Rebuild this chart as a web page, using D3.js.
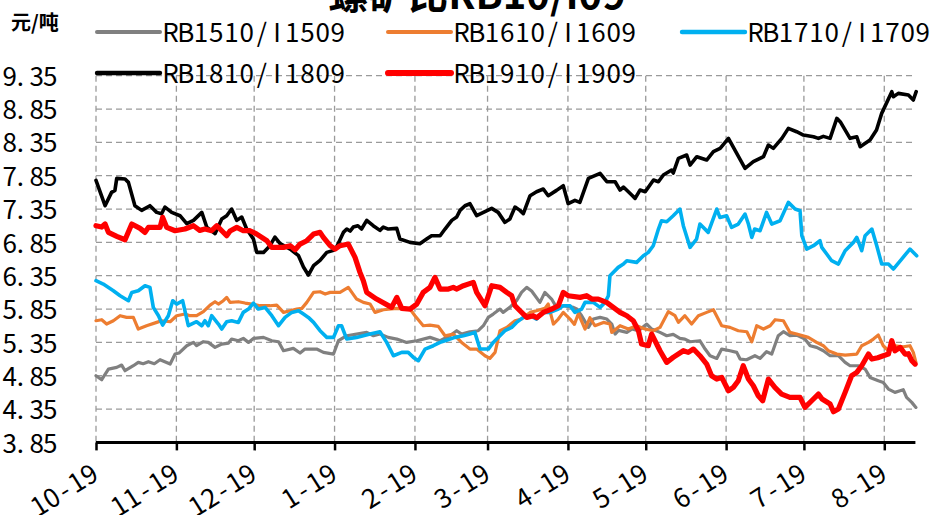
<!DOCTYPE html>
<html>
<head>
<meta charset="utf-8">
<script src="https://cdn.jsdelivr.net/npm/d3@7"></script>
<style>
  html, body { margin: 0; padding: 0; background: #fff; }
  svg { display: block; }
</style>
</head>
<body>
<svg id="chart" width="930" height="515"></svg>
<script>
// Each series: [days since 19 Oct, ratio]
const rb1510 = [[0,4.85],[2.2,4.79],[4.8,4.95],[8,4.975],[9.9,5.01],[11.2,4.925],[14.4,5.0],[16.3,5.05],[18.2,5.03],[20.2,5.06],[22.5,5.03],[24.7,5.09],[28.6,5.025],[30.5,5.175],[32,5.19],[35,5.30],[37.6,5.35],[38.8,5.30],[41.4,5.36],[43.3,5.35],[45.9,5.275],[48.5,5.325],[51.1,5.34],[52.3,5.40],[54.9,5.375],[56.8,5.41],[58.8,5.35],[60.7,5.41],[64.6,5.425],[67.8,5.375],[70.4,5.36],[72.3,5.225],[76.1,5.26],[78.7,5.19],[80.6,5.25],[85.1,5.25],[87.7,5.20],[91.6,5.175],[93.5,5.375],[96.7,5.45],[100.5,5.475],[104.4,5.50],[107,5.45],[109.5,5.475],[112.7,5.425],[116,5.40],[119.8,5.35],[123.7,5.375],[128.8,5.425],[132.7,5.375],[136.5,5.45],[139.1,5.525],[141,5.475],[144.2,5.51],[147.4,5.525],[149.4,5.60],[151.3,5.725],[153.2,5.775],[155.8,5.85],[157,5.80],[159.6,5.875],[162.2,5.975],[164.1,6.10],[166.1,6.175],[168,6.12],[171.2,5.95],[173.1,6.10],[175.7,6.0],[177.6,5.875],[180.2,5.90],[184.1,5.875],[185.4,5.85],[187.3,5.75],[189.9,5.575],[191.8,5.70],[194.4,5.725],[197,5.70],[198.9,5.625],[200.2,5.475],[201.5,5.53],[204.7,5.50],[206.6,5.55],[209.2,5.525],[212.4,5.625],[214.3,5.55],[217.5,5.50],[220.1,5.45],[222.6,5.47],[225.2,5.41],[227.1,5.40],[229.1,5.36],[232.9,5.375],[234.9,5.25],[236.8,5.15],[239.4,5.11],[241.3,5.25],[244.5,5.225],[247.1,5.20],[248.4,5.10],[250.9,5.09],[254.1,5.15],[256.1,5.11],[258.6,5.21],[260.6,5.175],[263.1,5.45],[265.1,5.51],[267.6,5.45],[270.2,5.46],[273.4,5.40],[275.4,5.30],[277.9,5.275],[280.5,5.225],[283.1,5.15],[286.3,5.15],[288.9,5.05],[290.8,5.0],[294,5.0],[296.6,4.95],[298.5,4.825],[301.7,4.775],[303.6,4.75],[305.6,4.65],[308.1,4.60],[310.1,4.625],[311.3,4.64],[312.6,4.525],[314.6,4.45],[316.2,4.375]];

const rb1610 = [[0,5.675],[2.2,5.69],[4.1,5.625],[6.7,5.675],[9.3,5.75],[11.8,5.725],[14.4,5.725],[16.3,5.55],[19.5,5.60],[23.4,5.65],[25.3,5.675],[28.6,5.66],[31.1,5.75],[34.3,5.775],[36.3,5.75],[38.8,5.75],[41.4,5.81],[44,5.91],[45.9,5.96],[47.2,5.925],[49.1,5.975],[50.4,6.025],[51.7,5.95],[54.9,5.96],[57.5,5.94],[60.1,5.925],[63.3,5.90],[67.1,5.90],[69.7,5.91],[72.3,5.80],[74.9,5.825],[77.4,5.85],[79.4,5.86],[81.3,5.95],[83.9,6.10],[86.4,6.11],[88.4,6.075],[90.3,6.10],[94.1,6.10],[97.3,6.175],[100.5,6.0],[103.1,5.95],[105.7,5.925],[107.6,5.80],[110.8,5.84],[116,5.86],[121.1,5.85],[123,5.75],[126.2,5.60],[128.8,5.61],[132,5.59],[134.6,5.45],[137.8,5.475],[141,5.35],[144.2,5.25],[146.8,5.25],[150,5.15],[151.9,5.11],[153.9,5.20],[155.8,5.525],[158.4,5.575],[161.6,5.675],[164.1,5.70],[167.4,5.80],[169.9,5.825],[173.1,5.86],[174.4,5.925],[176.4,5.625],[178.3,5.70],[180.2,5.80],[182.8,5.70],[184.5,5.62],[186,5.78],[188.6,5.55],[190.5,5.72],[192.4,5.60],[195.7,5.65],[198.2,5.625],[198.9,5.50],[202.1,5.60],[205.3,5.55],[208.5,5.60],[211.7,5.55],[214.9,5.525],[217.5,5.575],[220.7,5.81],[223.3,5.75],[224.6,5.65],[227.1,5.75],[229.7,5.625],[232.3,5.75],[235.5,5.80],[238.1,5.84],[241.3,5.60],[244.5,5.575],[247.7,5.525],[251,5.51],[252.9,5.36],[254.8,5.60],[257.4,5.55],[260,5.60],[261.9,5.69],[265.1,5.675],[267.6,5.50],[270.2,5.475],[274.7,5.425],[277.9,5.35],[280.5,5.30],[282.4,5.225],[285.7,5.175],[288.9,5.16],[293.4,5.175],[295.3,5.30],[297.9,5.35],[299.8,5.40],[301.7,5.46],[303.6,5.30],[305.6,5.225],[308.1,5.30],[311.4,5.285],[313.9,5.30],[315.2,5.20],[316.2,5.05]];

const rb1710 = [[0,6.275],[2.8,6.225],[6.7,6.125],[9.3,6.05],[12.5,5.975],[13.8,6.10],[16.3,6.125],[18.9,6.20],[20.8,6.175],[22.1,5.875],[24.1,5.75],[25.7,5.61],[27.9,5.75],[29.6,5.975],[31.1,5.925],[33.4,5.975],[35.6,5.60],[38.8,5.66],[40.8,5.60],[42,5.675],[43.3,5.60],[44.6,5.75],[47.2,5.625],[48.5,5.55],[50.4,5.66],[52.3,5.675],[54.9,5.65],[56.8,5.80],[58.8,5.85],[60.7,5.94],[62.6,5.85],[65.2,5.875],[67.8,5.75],[70.4,5.60],[72.9,5.725],[75.5,5.80],[78.1,5.825],[80,5.775],[81.9,5.725],[83.9,5.65],[86.4,5.525],[89,5.425],[91.6,5.425],[93.5,5.60],[94.7,5.60],[96.7,5.40],[100.5,5.425],[105.7,5.475],[109.5,5.51],[112.1,5.35],[114.7,5.15],[117.9,5.20],[120.4,5.20],[122.4,5.125],[124.3,5.075],[126.9,5.25],[130.1,5.30],[132.7,5.35],[134.6,5.375],[138.4,5.425],[141.7,5.45],[144.2,5.475],[146.1,5.50],[148.1,5.25],[151.3,5.25],[153.2,5.35],[155.1,5.425],[157.7,5.525],[160.3,5.575],[162.2,5.65],[164.8,5.725],[167.4,5.75],[169.9,5.70],[172.5,5.80],[175.1,5.80],[178.3,5.85],[180.2,5.90],[182.8,5.90],[184.7,5.80],[187.3,5.85],[188.6,5.95],[191.8,5.95],[194.4,5.875],[196.3,5.95],[197.6,6.05],[198.2,6.35],[201.4,6.475],[203.4,6.525],[204.7,6.575],[208.5,6.55],[211.1,6.65],[213,6.70],[214.9,6.80],[216.9,7.05],[218.1,7.175],[220.1,7.16],[222.6,7.25],[225.2,7.35],[226.5,7.10],[229.1,6.775],[231.6,6.90],[232.9,7.125],[236.1,7.0],[239.4,7.35],[240.6,7.225],[243.2,7.25],[245.1,7.075],[247.7,7.125],[250.3,7.275],[251.6,7.125],[252.9,6.925],[254,7.05],[256.1,7.025],[258.6,7.30],[260.6,7.125],[263.8,7.175],[267,7.45],[269.6,7.35],[271.5,7.325],[272.2,6.95],[274.1,6.75],[276.7,6.80],[279.2,6.875],[279.9,6.775],[281.8,6.675],[283.7,6.575],[286.3,6.525],[288.9,6.725],[292.1,6.85],[293.4,6.925],[295.3,6.725],[296.6,6.95],[299.2,7.05],[301.1,6.80],[303,6.525],[305.6,6.525],[307.5,6.45],[310.7,6.60],[313.9,6.75],[316.5,6.65]];

const rb1810 = [[0,7.78],[3.5,7.40],[6,7.60],[7.3,7.63],[8,7.81],[11.2,7.80],[12.5,7.75],[15,7.40],[17.6,7.33],[20.8,7.40],[23.4,7.30],[25.3,7.28],[26.6,7.38],[29.2,7.30],[32.4,7.25],[35,7.13],[37.6,7.18],[40.8,7.30],[42.7,7.08],[45.9,6.98],[48.5,7.20],[50.4,7.25],[52.3,7.35],[54.3,7.18],[56.2,7.23],[58.1,7.05],[60.7,6.90],[62,6.70],[64.6,6.70],[67.1,6.80],[69,6.93],[71,6.83],[74.9,6.75],[78.1,6.65],[80,6.48],[81.9,6.36],[83.9,6.50],[86.4,6.58],[89,6.70],[91.6,6.73],[92.8,6.78],[95.4,7.0],[96.7,7.05],[98,7.02],[99.2,7.08],[101,7.10],[102.4,7.05],[104.4,7.18],[106.9,7.10],[109.5,7.03],[110.8,7.08],[112.7,7.05],[116,7.06],[117.2,6.90],[121.1,6.85],[124.9,6.83],[127.5,6.90],[129.4,6.95],[132.7,6.95],[134.6,7.05],[137.2,7.18],[139.1,7.23],[140.4,7.33],[142.3,7.40],[144.2,7.43],[146.8,7.25],[149.4,7.30],[152.6,7.36],[155.1,7.30],[157.7,7.15],[159.6,7.20],[161.6,7.38],[163.5,7.33],[164.8,7.28],[167.4,7.55],[169.9,7.61],[172.5,7.65],[174.4,7.55],[177.6,7.63],[180.2,7.70],[182.1,7.43],[184.7,7.48],[186.6,7.45],[189.9,7.81],[194.4,7.885],[197,7.76],[200.2,7.76],[202.1,7.635],[203.4,7.68],[206.6,7.56],[207.9,7.51],[209.8,7.635],[211.8,7.61],[215,7.785],[216.9,7.76],[218.8,7.86],[222,7.935],[222.6,7.89],[224.6,8.11],[227.8,8.16],[229.1,8.01],[231.7,8.135],[235.5,8.085],[238.1,8.21],[240.7,8.26],[243.9,8.41],[247.1,8.185],[250.3,7.96],[253.5,8.06],[257.4,8.135],[259.3,8.31],[261.2,8.26],[264.5,8.41],[267,8.56],[270.2,8.51],[272.8,8.46],[276.7,8.435],[278.6,8.41],[280.5,8.44],[283.1,8.41],[285.7,8.71],[287,8.66],[290.8,8.41],[293.4,8.435],[294.7,8.285],[298.5,8.385],[301,8.535],[303,8.785],[306.9,9.11],[307.5,9.035],[309.4,9.085],[313.3,9.06],[315.2,8.985],[316.3,9.11]];

const rb1910 = [[0,7.10],[2.2,7.08],[3.5,7.125],[4.8,7.0],[8,6.94],[11.2,6.89],[13.8,7.125],[17,7.06],[18.9,7.0],[20.2,7.075],[24.7,7.075],[25.7,7.225],[27.3,7.075],[30.5,7.025],[34.3,7.05],[37.6,7.10],[40,7.03],[42,7.05],[44.6,7.025],[46.6,7.10],[48.5,7.025],[50.4,6.95],[51.7,7.02],[54.3,7.075],[56.8,7.025],[59.4,7.025],[62,6.975],[65.9,6.875],[67.8,6.775],[72.3,6.775],[74.9,6.80],[76.8,6.74],[78.7,6.825],[81.3,6.875],[83.9,6.975],[86.4,7.0],[87.7,6.925],[90.3,6.80],[92.2,6.75],[94.1,6.80],[97.3,6.825],[99.9,6.625],[101.8,6.40],[103.1,6.275],[104.4,6.10],[108.2,6.0],[114,5.875],[116,6.025],[117.9,5.86],[121.1,5.85],[123.7,5.925],[126.2,6.10],[128.8,6.175],[130.7,6.325],[132.7,6.15],[135.9,6.15],[137.8,6.175],[139,6.15],[141.7,6.20],[145.5,6.25],[146.8,6.10],[150,5.90],[152.6,6.20],[155.8,6.175],[158.4,6.10],[160.3,6.05],[161.6,5.90],[163.5,5.825],[166.1,5.725],[168.6,5.75],[170,5.72],[172.5,5.80],[175.7,5.85],[178.3,5.90],[180.2,6.10],[182.1,6.05],[186.7,6.025],[189.2,6.05],[191.2,6.0],[193.7,6.0],[196.9,5.95],[199.5,5.875],[202.1,5.80],[204.7,5.75],[207.2,5.675],[209.2,5.525],[210.4,5.325],[213,5.30],[214.3,5.475],[217.5,5.225],[220.1,5.05],[222.6,5.125],[226.5,5.225],[228.4,5.2],[230.4,5.25],[232.9,5.15],[235.5,5.025],[237.4,4.85],[239.4,4.80],[241.3,4.825],[243.9,4.625],[245.8,4.675],[247.7,4.775],[249.6,5.0],[251.6,4.80],[253.5,4.70],[255.4,4.55],[257.1,4.475],[259.3,4.80],[261.8,4.675],[264.4,4.575],[267.6,4.525],[271.5,4.525],[273.4,4.375],[276,4.475],[278.6,4.575],[280,4.50],[283.1,4.425],[284.4,4.31],[286.3,4.35],[288.9,4.60],[291.4,4.85],[293.4,4.90],[295.3,5.0],[297.9,5.175],[299.2,5.10],[301.5,5.12],[303.6,5.15],[305.6,5.175],[306.9,5.375],[308.1,5.225],[310.1,5.275],[312,5.175],[313.3,5.18],[314.6,5.075],[315.9,5.025]];

const seriesNames = ["RB1510/I1509", "RB1610/I1609", "RB1710/I1709", "RB1810/I1809", "RB1910/I1909"];
const seriesColors = ["#808080", "#ED7D31", "#00B0F0", "#000000", "#FF0000"];
const seriesWidths = [3.2, 3.2, 3.6, 3.6, 5.2];
const seriesData = [rb1510, rb1610, rb1710, rb1810, rb1910];

const yTicks = [3.85, 4.35, 4.85, 5.35, 5.85, 6.35, 6.85, 7.35, 7.85, 8.35, 8.85, 9.35];
const xTickDates = ["2018-10-19", "2018-11-19", "2018-12-19", "2019-01-19", "2019-02-19", "2019-03-19",
                    "2019-04-19", "2019-05-19", "2019-06-19", "2019-07-19", "2019-08-19"];
const startDate = "2018-10-19";
const endDate = "2019-08-31";
const unitLabel = "元/吨";
const titleText = "螺矿比RB10/I09";

(function draw() {
  const parse = d3.utcParse("%Y-%m-%d");
  const t0 = parse(startDate);
  const toDate = d => new Date(t0.getTime() + d * 864e5);

  const plotL = 96, plotR = 915.4, plotT = 75.7, plotB = 442.4;
  const x = d3.scaleUtc().domain([t0, parse(endDate)]).range([plotL, plotR]);
  const y = d3.scaleLinear().domain([3.85, 9.35]).range([plotB, plotT]);

  const svg = d3.select("#chart");
  const FONT = "'Noto Sans CJK SC', 'Noto Sans', sans-serif";
  const FSIZE = 26;

  // lays out a string on a fixed-width character grid, each glyph centred in its cell
  function gridText(sel, str, x0, cell, align) {
    const n = str.length;
    const xs = Array.from(str).map((c, k) => {
      let cx = align === "end" ? x0 - (n - k - 0.5) * cell : x0 + (k + 0.5) * cell;
      if (c === ".") cx -= 3;
      return cx.toFixed(2);
    });
    sel.attr("x", xs.join(" "))
      .attr("text-anchor", "middle")
      .attr("font-family", FONT)
      .attr("font-size", FSIZE)
      .attr("fill", "#000")
      .text(str);
  }

  // title, partly outside the top edge
  svg.append("text")
    .attr("x", 477).attr("y", 9)
    .attr("text-anchor", "middle")
    .attr("font-family", "'Noto Sans CJK SC', sans-serif")
    .attr("font-weight", "bold")
    .attr("font-size", 40)
    .attr("fill", "#000")
    .text(titleText);

  // unit label
  svg.append("text")
    .attr("x", 11).attr("y", 30)
    .attr("font-family", "'Noto Sans CJK SC', sans-serif")
    .attr("font-weight", "bold")
    .attr("font-size", 20)
    .attr("fill", "#000")
    .text(unitLabel);

  // gridlines
  const grid = svg.append("g")
    .attr("stroke", "#9a9a9a")
    .attr("stroke-width", 1.3)
    .attr("stroke-dasharray", "6,4");
  grid.selectAll("line.h").data(yTicks.slice(1)).join("line")
    .attr("class", "h")
    .attr("x1", plotL).attr("x2", plotR)
    .attr("y1", d => y(d)).attr("y2", d => y(d));
  grid.selectAll("line.v").data(xTickDates).join("line")
    .attr("class", "v")
    .attr("x1", d => x(parse(d))).attr("x2", d => x(parse(d)))
    .attr("y1", plotT).attr("y2", plotB);

  // y axis labels (no axis line)
  const yAxis = svg.append("g")
    .attr("transform", `translate(${plotL},0)`)
    .call(d3.axisLeft(y).tickValues(yTicks).tickFormat(d3.format(".2f")).tickSize(0));
  yAxis.select(".domain").remove();
  yAxis.selectAll(".tick text").each(function() {
    d3.select(this).attr("dy", "0.37em");
    gridText(d3.select(this), this.textContent, 57 - plotL, 13.5, "end");
  });

  // series lines
  const line = d3.line()
    .x(p => x(toDate(p[0])))
    .y(p => y(p[1]));
  seriesData.forEach((data, i) => {
    svg.append("path")
      .datum(data)
      .attr("fill", "none")
      .attr("stroke", seriesColors[i])
      .attr("stroke-width", seriesWidths[i])
      .attr("stroke-linejoin", "round")
      .attr("stroke-linecap", "round")
      .attr("d", line);
  });

  // x axis
  const xAxis = svg.append("g")
    .attr("transform", `translate(0,${plotB})`)
    .call(d3.axisBottom(x)
      .tickValues(xTickDates.map(parse))
      .tickFormat(d3.utcFormat("%-m-%d"))
      .tickSizeOuter(0)
      .tickSize(8));
  xAxis.select(".domain")
    .attr("stroke", "#000")
    .attr("stroke-width", 3)
    .attr("d", `M${plotL},0H${plotR}`);
  xAxis.selectAll(".tick line")
    .attr("stroke", "#000")
    .attr("stroke-width", 2.5);
  xAxis.selectAll(".tick text").each(function() {
    const t = d3.select(this);
    t.attr("y", 0).attr("dy", 0)
      .attr("transform", "translate(4,36) rotate(-32)");
    gridText(t, this.textContent, 0, 14.8, "end");
  });

  // legend
  const legendPos = [[97, 32], [388, 32], [682, 32], [97, 73], [388, 73]];
  const legend = svg.append("g");
  seriesNames.forEach((name, i) => {
    const [lx, ly] = legendPos[i];
    legend.append("line")
      .attr("x1", lx).attr("x2", lx + 63)
      .attr("y1", ly).attr("y2", ly)
      .attr("stroke", seriesColors[i])
      .attr("stroke-width", seriesWidths[i] + 0.8)
      .attr("stroke-linecap", "round");
    gridText(legend.append("text").attr("y", ly + 9.5), name, lx + 66, 15.2, "start");
  });
})();
</script>
</body>
</html>
